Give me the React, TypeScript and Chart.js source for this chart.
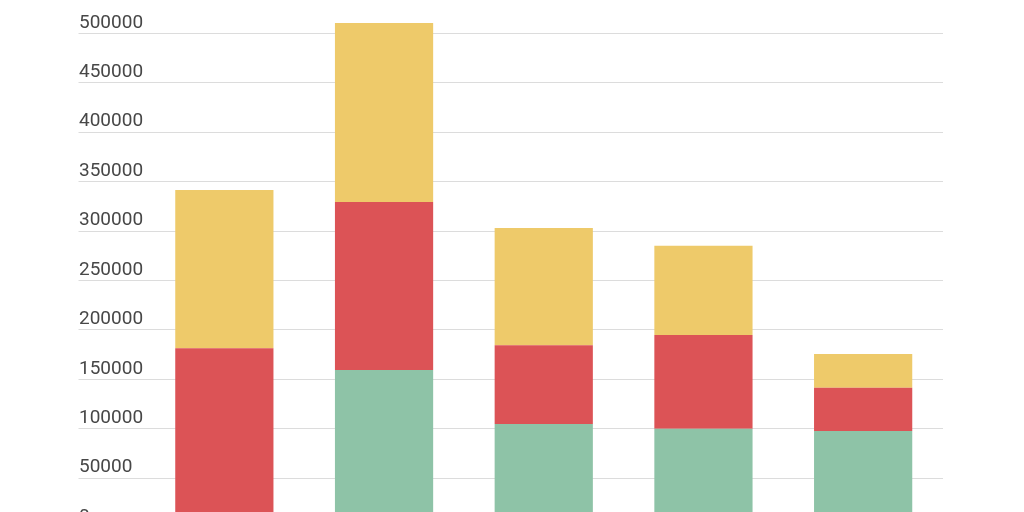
import React, { useEffect, useRef } from "react";
import { Chart, registerables } from "chart.js";

Chart.register(...registerables);

const categories = ["A", "B", "C", "D", "E"];
const seriesGreen = [0, 159400, 104800, 100000, 97700];
const seriesRed = [181400, 170000, 79600, 94800, 43800];
const seriesYellow = [160200, 181200, 118700, 90400, 34100];

export default function App() {
  const ref = useRef<HTMLCanvasElement | null>(null);

  useEffect(() => {
    document.body.style.margin = "0";
    document.body.style.overflow = "hidden";
    const ctx = ref.current!;
    const chart = new Chart(ctx, {
      type: "bar",
      data: {
        labels: categories,
        datasets: [
          { label: "Green", data: seriesGreen, backgroundColor: "#8ec3a7" },
          { label: "Red", data: seriesRed, backgroundColor: "#dc5356" },
          { label: "Yellow", data: seriesYellow, backgroundColor: "#eeca6a" },
        ],
      },
      options: {
        responsive: false,
        animation: false,
        maintainAspectRatio: false,
        layout: { padding: { left: 79, right: 81, top: 24, bottom: 32.5 } },
        plugins: { legend: { display: false }, tooltip: { enabled: false } },
        datasets: { bar: { categoryPercentage: 1, barPercentage: 0.615 } },
        scales: {
          x: { stacked: true, display: false, grid: { display: false } },
          y: {
            stacked: true,
            min: 0,
            max: 550000,
            border: { display: false },
            grid: { color: "#dcdcdc", lineWidth: 1, tickLength: 66, tickColor: "#dcdcdc" },
            afterFit: (scale: any) => {
              scale.width = 65.5;
            },
            ticks: {
              stepSize: 50000,
              crossAlign: "far",
              labelOffset: -10.5,
              color: "#474747",
              font: { family: "Roboto", size: 19 },
              callback: (v: any) => String(v),
            },
          },
        },
      },
    });
    return () => chart.destroy();
  }, []);

  return (
    <div style={{ position: "absolute", left: 0, top: -40, width: 1024, height: 600 }}>
      <canvas ref={ref} width={1024} height={600} style={{ width: 1024, height: 600 }} />
    </div>
  );
}
